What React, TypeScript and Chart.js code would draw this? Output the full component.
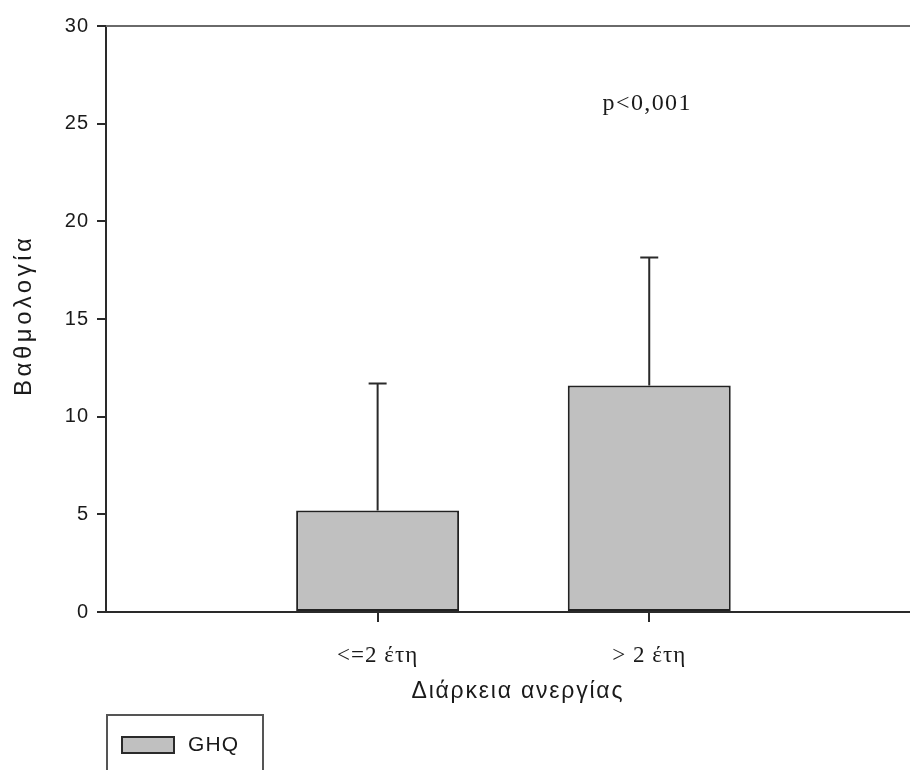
import React, { useEffect, useRef } from 'react';
import { Chart, registerables } from 'chart.js';

Chart.register(...registerables);

// ---- data ----
const categories = ['<=2 έτη', '> 2 έτη'];
const categoryPositions = [1, 2];
const ghqMeans = [5.2, 11.6];
const ghqSD = [6.5, 6.55];
const seriesLabel = 'GHQ';
const yMin = 0;
const yMax = 30;
const yStep = 5;
const xTitle = 'Διάρκεια ανεργίας';
const yTitle = 'Βαθμολογία';
const annotationText = 'p<0,001';
const annotationPos = { x: 1.99, y: 26.0 };

function drawSpaced(
  ctx: CanvasRenderingContext2D,
  text: string,
  x: number,
  y: number,
  font: string,
  target: number,
  align: 'center' | 'left' = 'center'
) {
  ctx.save();
  ctx.font = font;
  (ctx as any).letterSpacing = '0px';
  const w = ctx.measureText(text).width;
  const n = Array.from(text).length;
  const ls = n > 1 ? Math.max(0, (target - w) / (n - 1)) : 0;
  (ctx as any).letterSpacing = ls + 'px';
  ctx.textBaseline = 'middle';
  ctx.textAlign = 'left';
  const visible = w + ls * (n - 1);
  const sx = align === 'center' ? x - visible / 2 : x;
  ctx.fillStyle = '#1a1a1a';
  ctx.fillText(text, sx, y);
  ctx.restore();
}

const customPlugin = {
  id: 'customDecor',
  beforeDraw(chart: any) {
    chart.ctx.letterSpacing = '1px';
  },
  afterDatasetsDraw(chart: any) {
    const ctx: CanvasRenderingContext2D = chart.ctx;
    const meta = chart.getDatasetMeta(0);
    const yScale = chart.scales.y;
    ctx.save();
    ctx.strokeStyle = '#2a2a2a';
    ctx.lineWidth = 2;
    meta.data.forEach((bar: any, i: number) => {
      const top = yScale.getPixelForValue(ghqMeans[i] + ghqSD[i]);
      ctx.beginPath();
      ctx.moveTo(bar.x, bar.y);
      ctx.lineTo(bar.x, top);
      ctx.moveTo(bar.x - 9, top);
      ctx.lineTo(bar.x + 9, top);
      ctx.stroke();
    });
    ctx.restore();
  },
  afterDraw(chart: any) {
    const ctx: CanvasRenderingContext2D = chart.ctx;
    (ctx as any).letterSpacing = '0px';
    const area = chart.chartArea;
    // top frame line
    ctx.save();
    ctx.strokeStyle = '#6a6a6a';
    ctx.lineWidth = 2;
    ctx.beginPath();
    ctx.moveTo(area.left, area.top);
    ctx.lineTo(area.right, area.top);
    ctx.stroke();
    ctx.restore();

    // annotation
    const xs = chart.scales.x;
    const ys = chart.scales.y;
    drawSpaced(
      ctx,
      annotationText,
      xs.getPixelForValue(annotationPos.x),
      ys.getPixelForValue(annotationPos.y),
      '24px "Liberation Serif"',
      88
    );

    // axis titles
    drawSpaced(ctx, xTitle, (area.left + 928) / 2, 692, '23px "Liberation Sans"', 211);
    ctx.save();
    ctx.translate(24, (area.top + area.bottom) / 2 - 2);
    ctx.rotate(-Math.PI / 2);
    drawSpaced(ctx, yTitle, 0, 0, '24px "Liberation Sans"', 158);
    ctx.restore();

    // legend box
    const ds = chart.data.datasets[0];
    ctx.save();
    ctx.strokeStyle = '#555';
    ctx.lineWidth = 2;
    ctx.strokeRect(107, 715, 156, 80);
    ctx.fillStyle = ds.backgroundColor;
    ctx.fillRect(122, 737, 52, 16);
    ctx.strokeStyle = '#2a2a2a';
    ctx.lineWidth = 2;
    ctx.strokeRect(122, 737, 52, 16);
    ctx.restore();
    drawSpaced(ctx, ds.label, 188, 745, '21px "Liberation Sans"', 50, 'left');
  },
};

export default function App() {
  const canvasRef = useRef<HTMLCanvasElement | null>(null);

  useEffect(() => {
    const canvas = canvasRef.current;
    if (!canvas) return;
    const chart = new Chart(canvas, {
      type: 'bar',
      data: {
        datasets: [
          {
            label: seriesLabel,
            data: categoryPositions.map((x, i) => ({ x, y: ghqMeans[i] })),
            backgroundColor: '#c0c0c0',
            borderColor: '#222',
            borderWidth: 2,
            borderSkipped: false,
            categoryPercentage: 1,
            barPercentage: 0.6,
          },
        ],
      },
      options: {
        animation: false,
        responsive: false,
        maintainAspectRatio: false,
        layout: { padding: { top: 26, left: 0, right: 0, bottom: 0 } },
        plugins: {
          legend: { display: false },
          tooltip: { enabled: false },
        },
        scales: {
          x: {
            type: 'linear',
            min: 0,
            max: 2.96,
            offset: false,
            afterBuildTicks: (scale: any) => {
              scale.ticks = categoryPositions.map((v) => ({ value: v }));
            },
            afterFit: (scale: any) => {
              scale.height = 158;
            },
            ticks: {
              autoSkip: false,
              maxRotation: 0,
              padding: 20,
              color: '#1a1a1a',
              font: { family: '"Liberation Serif"', size: 23 },
              callback: (value: any) => {
                const idx = categoryPositions.indexOf(Number(value));
                return idx >= 0 ? categories[idx] : '';
              },
            },
            grid: {
              display: true,
              offset: false,
              drawOnChartArea: false,
              drawTicks: true,
              tickLength: 10,
              color: '#2a2a2a',
              lineWidth: 2,
            },
            border: { display: true, color: '#2a2a2a', width: 2 },
          },
          y: {
            type: 'linear',
            min: yMin,
            max: yMax,
            afterFit: (scale: any) => {
              scale.width = 106;
            },
            ticks: {
              stepSize: yStep,
              padding: 8,
              color: '#1a1a1a',
              font: { family: '"Liberation Sans"', size: 20 },
            },
            grid: {
              display: true,
              drawOnChartArea: false,
              drawTicks: true,
              tickLength: 9,
              color: '#2a2a2a',
              lineWidth: 2,
            },
            border: { display: true, color: '#2a2a2a', width: 2 },
          },
        },
      },
      plugins: [customPlugin],
    } as any);
    return () => chart.destroy();
  }, []);

  return (
    <div style={{ position: 'fixed', left: 0, top: 0, width: 910, height: 770, background: '#fff', overflow: 'hidden' }}>
      <canvas ref={canvasRef} width={910} height={770} style={{ display: 'block', width: 910, height: 770 }} />
    </div>
  );
}
